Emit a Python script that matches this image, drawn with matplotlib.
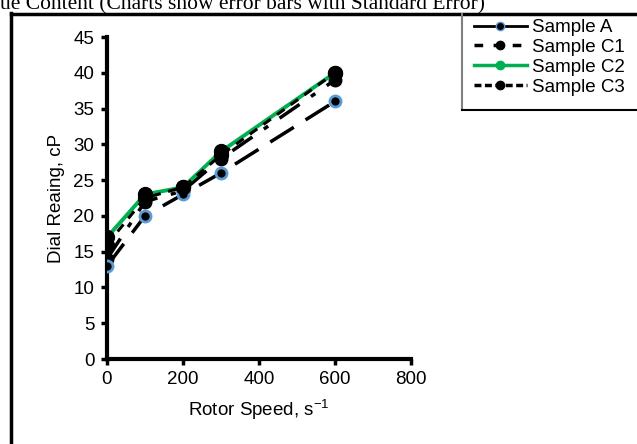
import matplotlib.pyplot as plt
from matplotlib.lines import Line2D

plt.rcParams['font.family'] = ['Liberation Sans', 'DejaVu Sans']
plt.rcParams['axes.unicode_minus'] = False

speed = [0, 100, 200, 300, 600]
sample_a = [13, 20, 23, 26, 36]
sample_c1 = [14, 22, 23.5, 28, 39]
sample_c2 = [17, 23, 24, 29, 40]
sample_c3 = [16, 22.5, 24, 28.5, 40]
names = ["Sample A", "Sample C1", "Sample C2", "Sample C3"]

fig = plt.figure(figsize=(6.37, 4.44), dpi=100)
ax = fig.add_axes([107 / 637, 1 - 359 / 444, 304 / 637, 322 / 444])

blue = '#5b9bd5'
ax.plot(speed, sample_c1, color='black', lw=2.5, dashes=(7, 4, 1.5, 4),
        marker='o', ms=9, mfc='black', mec='black', zorder=3)
ax.plot(speed, sample_a, color='black', lw=2.5, dashes=(8, 4),
        marker='o', ms=8, mfc='black', mec=blue, mew=2, zorder=3)
ax.plot(speed, sample_c2, color='#00b050', lw=2.8,
        marker='o', ms=10, mfc='black', mec='black', zorder=4)
ax.plot(speed, sample_c3, color='black', lw=2.2, dashes=(3, 2.5),
        marker='o', ms=10, mfc='black', mec='black', zorder=5)

ax.set_xlim(0, 800)
ax.set_ylim(0, 45)
ax.set_xticks(range(0, 801, 200))
ax.set_yticks(range(0, 46, 5))
for s in ['top', 'right']:
    ax.spines[s].set_visible(False)
for s in ['left', 'bottom']:
    ax.spines[s].set_linewidth(3)
ax.tick_params(width=2.5, length=4, labelsize=13.5, direction='out', pad=5)
ax.set_xlabel("Rotor Speed, s$^{\\mathregular{-1}}$", fontsize=13.5, labelpad=6)
ax.set_ylabel("Dial Reaing, cP", fontsize=13.5, labelpad=6)

# legend drawn the way the original shows it
handles = [
    Line2D([], [], color='black', lw=2, marker='o', ms=6, mfc='black', mec=blue),
    Line2D([], [], color='black', lw=2.5, dashes=(2.5, 3), marker='o', ms=6, mfc='black'),
    Line2D([], [], color='#00b050', lw=2.5, marker='o', ms=6, mfc='#00b050', mec='#00b050'),
    Line2D([], [], color='black', lw=2.5, dashes=(2, 1), marker='o', ms=6, mfc='black'),
]
fig.legend(handles, names, loc='upper left', bbox_to_anchor=(474 / 637, 1 - 19 / 444),
           frameon=False, fontsize=13.5, handlelength=2.8, handletextpad=0.3,
           labelspacing=0.15, borderaxespad=0, borderpad=0)

# outer frame and legend box edges
fig.add_artist(Line2D([11 / 637, 11 / 637], [0, 1 - 13 / 444], color='black', lw=2.5,
                      transform=fig.transFigure))
fig.add_artist(Line2D([11 / 637, 1], [1 - 14 / 444, 1 - 14 / 444], color='black', lw=2.5,
                      transform=fig.transFigure))
fig.add_artist(Line2D([462 / 637, 462 / 637], [1 - 110 / 444, 1 - 14 / 444], color='#808080',
                      lw=1.5, transform=fig.transFigure))
fig.add_artist(Line2D([462 / 637, 1], [1 - 110 / 444, 1 - 110 / 444], color='black',
                      lw=1.5, transform=fig.transFigure))

fig.text(0, 1 - 9 / 444, "ue Content (Charts show error bars with Standard Error)",
         family=['Liberation Serif', 'DejaVu Serif'], fontsize=15.5, va='baseline', ha='left')

fig.savefig('out.png', dpi=100)
